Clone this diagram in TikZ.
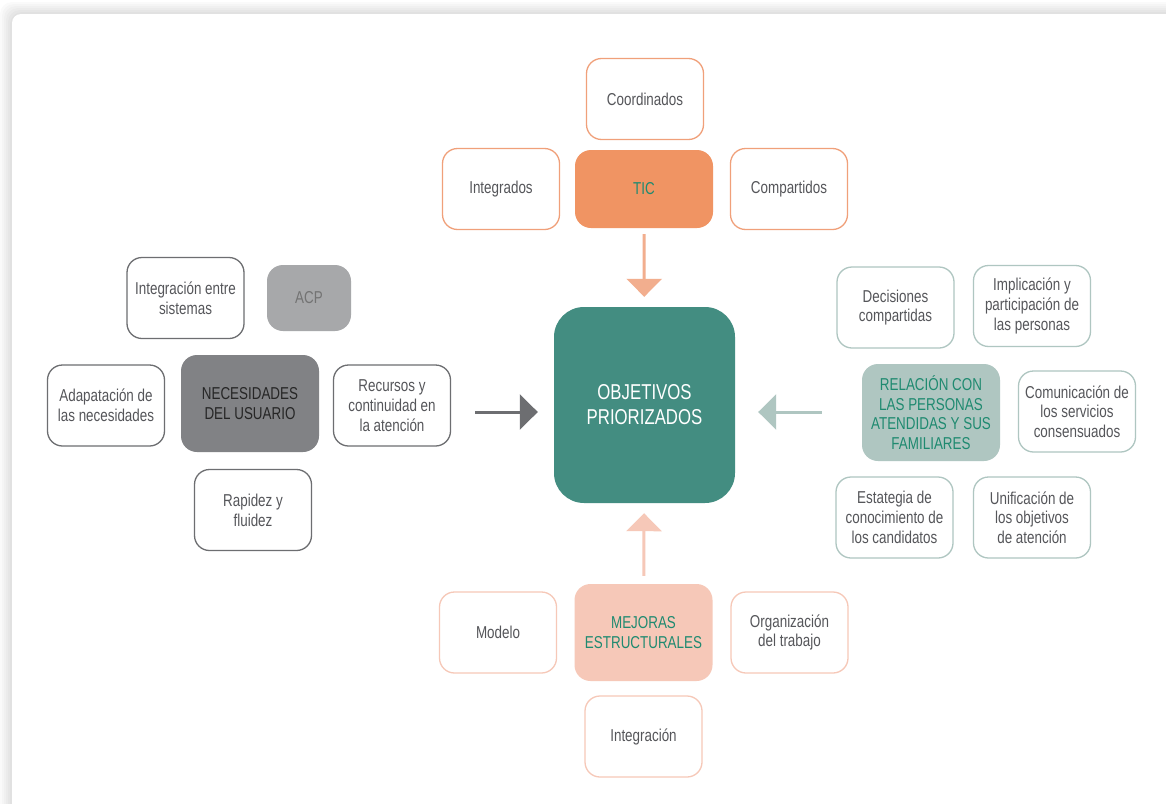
\documentclass[tikz,border=0pt]{standalone}
\usepackage{fontspec}
\setmainfont{Liberation Sans}[FakeStretch=0.78]
\usetikzlibrary{arrows.meta}
\definecolor{tealhub}{HTML}{438D81}
\definecolor{tealtext}{HTML}{1F8A70}
\definecolor{tealpale}{HTML}{AFC6C1}
\definecolor{orangehub}{HTML}{F09463}
\definecolor{orangeline}{HTML}{F0A07A}
\definecolor{salmonpale}{HTML}{F6C8B8}
\definecolor{greyhub}{HTML}{818285}
\definecolor{greyline}{HTML}{6D6E71}
\definecolor{greylight}{HTML}{A7A8AA}
\definecolor{textgrey}{HTML}{55565A}
\tikzset{
  box/.style={draw, rounded corners=15pt, line width=1.3pt, minimum width=117pt,
    minimum height=81pt, align=center, text=textgrey, inner sep=3pt,
    font=\fontsize{17.2}{19.7}\selectfont},
  hub/.style={rounded corners=16pt, minimum width=138pt, minimum height=97pt,
    align=center, inner sep=3pt, font=\fontsize{17.2}{19.7}\selectfont},
  bigarrow/.style={line width=3pt, -{Triangle[width=35pt,length=18pt]}}
}
\begin{document}
\begin{tikzpicture}[x=1pt,y=-1pt]
		%%%%% FRAME %%%%%
		\useasboundingbox (0,0) rectangle (1166,803);
		\fill[white] (0,0) rectangle (1166,803);
		\foreach \r in {12,10,8,6,4,2}
			\fill[black, opacity=0.018, rounded corners=12pt] (12-\r,14-\r) rectangle (1200,840);
		\fill[white, rounded corners=9pt] (12,14) rectangle (1200,840);
		
		%%%%% CENTRE %%%%%
		\node[fill=tealhub, rounded corners=30pt, minimum width=181pt, minimum height=196pt,
			align=center, text=white, font=\fontsize{21.5}{25}\selectfont] (obj) at (644.5,405) {OBJETIVOS\\PRIORIZADOS};
		
		%%%%% TIC %%%%%
		\node[hub, fill=orangehub, text=tealtext, minimum height=78pt] (tic) at (644,189) {TIC};
		\node[box, draw=orangeline] (coord) at (645,99) {Coordinados};
		\node[box, draw=orangeline] (integ) at (501,189) {Integrados};
		\node[box, draw=orangeline] (compart) at (789,189) {Compartidos};
		\draw[bigarrow, draw=orangeline!85, fill=orangeline!85, shorten <=6pt, shorten >=10pt] (tic) -- (obj);
		
		%%%%% NECESIDADES %%%%%
		\node[hub, fill=greyhub, text=black!85] (necesid) at (250,403.5) {NECESIDADES\\DEL USUARIO};
		\node[hub, fill=greylight, text=black!55, minimum width=84pt, minimum height=66pt] (acp) at (309,298) {ACP};
		\node[box, draw=greyline] (integsis) at (185.5,298) {Integración entre\\sistemas};
		\node[box, draw=greyline] (adapt) at (106,405.5) {Adapatación de\\las necesidades};
		\node[box, draw=greyline] (recursos) at (392,405.5) {Recursos y\\continuidad en\\la atención};
		\node[box, draw=greyline] (rapidez) at (253,510) {Rapidez y\\fluidez};
		\coordinate (midrow) at (0,412);
		\draw[bigarrow, draw=greyline, fill=greyline, shorten <=24pt, shorten >=16pt] (recursos.east |- midrow) -- (obj.west |- midrow);
		
		%%%%% RELACION %%%%%
		\node[hub, fill=tealpale, text=tealtext] (relac) at (931,412.5) {RELACIÓN CON\\LAS PERSONAS\\ATENDIDAS Y SUS\\FAMILIARES};
		\node[box, draw=tealpale] (decis) at (895.5,307.5) {Decisiones\\compartidas};
		\node[box, draw=tealpale] (implic) at (1032,306) {Implicación y\\participación de\\las personas};
		\node[box, draw=tealpale] (comunic) at (1077,411.5) {Comunicación de\\los servicios\\consensuados};
		\node[box, draw=tealpale] (estat) at (894.5,517.5) {Estategia de\\conocimiento de\\los candidatos};
		\node[box, draw=tealpale] (unific) at (1032,517.5) {Unificación de\\los objetivos\\de atención};
		\draw[bigarrow, draw=tealpale, fill=tealpale, shorten <=40pt, shorten >=23pt] (relac.west |- midrow) -- (obj.east |- midrow);
		
		%%%%% MEJORAS %%%%%
		\node[hub, fill=salmonpale, text=tealtext] (mejoras) at (643.5,632.5) {MEJORAS\\ESTRUCTURALES};
		\node[box, draw=salmonpale] (modelo) at (498,632.5) {Modelo};
		\node[box, draw=salmonpale] (organiz) at (789.5,632.5) {Organización\\del trabajo};
		\node[box, draw=salmonpale] (integra) at (643.5,736.5) {Integración};
		\draw[bigarrow, draw=salmonpale, fill=salmonpale, shorten <=8pt, shorten >=10pt] (mejoras) -- (obj);
		
		%%%%% END %%%%%
\end{tikzpicture}
\end{document}
